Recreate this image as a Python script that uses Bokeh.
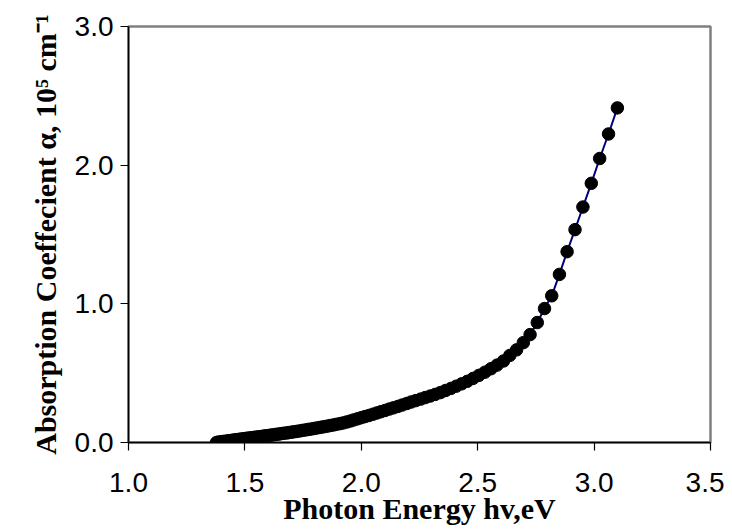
from bokeh.plotting import figure
from bokeh.models import FixedTicker, NumeralTickFormatter, Range1d
from bokeh.embed import file_html
from bokeh.resources import INLINE

# Photon energy (eV) and absorption coefficient (10^5 cm^-1)
energy = [3.100, 3.062, 3.024, 2.988, 2.952, 2.918, 2.884, 2.851, 2.818, 2.787,
          2.756, 2.725, 2.696, 2.667, 2.638, 2.611, 2.583, 2.557, 2.531, 2.505,
          2.480, 2.455, 2.431, 2.408, 2.385, 2.362, 2.340, 2.318, 2.296, 2.275,
          2.255, 2.234, 2.214, 2.195, 2.175, 2.157, 2.138, 2.120, 2.102, 2.084,
          2.067, 2.050, 2.033, 2.016, 2.000, 1.984, 1.968, 1.953, 1.938, 1.922,
          1.908, 1.893, 1.879, 1.865, 1.851, 1.837, 1.824, 1.810, 1.797, 1.784,
          1.771, 1.759, 1.746, 1.734, 1.722, 1.710, 1.699, 1.687, 1.676, 1.664,
          1.653, 1.642, 1.632, 1.621, 1.610, 1.600, 1.590, 1.580, 1.570, 1.560,
          1.550, 1.540, 1.531, 1.521, 1.512, 1.503, 1.494, 1.485, 1.476, 1.467,
          1.459, 1.450, 1.442, 1.434, 1.425, 1.417, 1.409, 1.401, 1.393, 1.385,
          1.378]
alpha = [2.413, 2.225, 2.048, 1.869, 1.698, 1.535, 1.376, 1.212, 1.058, 0.966,
         0.865, 0.778, 0.720, 0.668, 0.628, 0.588, 0.558, 0.532, 0.507, 0.484,
         0.462, 0.441, 0.423, 0.406, 0.390, 0.375, 0.360, 0.347, 0.335, 0.324,
         0.313, 0.302, 0.292, 0.281, 0.270, 0.260, 0.250, 0.241, 0.231, 0.222,
         0.213, 0.204, 0.195, 0.187, 0.179, 0.171, 0.163, 0.155, 0.148, 0.141,
         0.136, 0.131, 0.126, 0.122, 0.117, 0.113, 0.109, 0.105, 0.101, 0.097,
         0.094, 0.090, 0.087, 0.083, 0.080, 0.077, 0.074, 0.071, 0.068, 0.066,
         0.063, 0.060, 0.058, 0.055, 0.053, 0.050, 0.048, 0.046, 0.043, 0.041,
         0.039, 0.037, 0.035, 0.033, 0.031, 0.029, 0.027, 0.025, 0.023, 0.021,
         0.019, 0.017, 0.015, 0.013, 0.011, 0.009, 0.008, 0.006, 0.004, 0.002,
         0.000]

x_ticks = [1.0, 1.5, 2.0, 2.5, 3.0, 3.5]
y_ticks = [0.0, 1.0, 2.0, 3.0]

p = figure(width=724, height=532, output_backend="svg", toolbar_location=None,
           x_range=Range1d(1.0, 3.5), y_range=Range1d(0.0, 3.0),
           min_border_left=128, min_border_right=14, min_border_top=26,
           min_border_bottom=90)

p.background_fill_color = "white"
p.border_fill_color = "white"
p.outline_line_color = "#808080"
p.outline_line_width = 2.5
p.xgrid.visible = False
p.ygrid.visible = False

p.line(energy, alpha, line_color="#000080", line_width=2)
p.scatter(energy, alpha, size=12.5, fill_color="black", line_color="black")

for ax in (p.xaxis, p.yaxis):
    ax.axis_line_color = "black"
    ax.axis_line_width = 1.5
    ax.major_tick_line_color = "black"
    ax.major_tick_line_width = 1.2
    ax.major_tick_out = 8
    ax.major_tick_in = 0
    ax.minor_tick_line_color = None
    ax.major_label_text_font = "Liberation Sans"
    ax.major_label_text_font_size = "28px"
    ax.major_label_text_color = "black"
    ax.axis_label_text_font = "Liberation Serif"
    ax.axis_label_text_font_style = "bold"
    ax.axis_label_text_font_size = "30px"
    ax.axis_label_text_color = "black"
    ax.formatter = NumeralTickFormatter(format="0.0")

p.xaxis.ticker = FixedTicker(ticks=x_ticks)
p.yaxis.ticker = FixedTicker(ticks=y_ticks)
p.xaxis.major_label_standoff = 22
p.yaxis.major_label_standoff = 7
p.xaxis.axis_label = "Photon Energy hv,eV"
p.yaxis.axis_label = "Absorption Coeffecient α, 10⁵ cm⁻¹"
p.xaxis.axis_label_standoff = -3
p.yaxis.axis_label_standoff = 10

open("out.html", "w").write(file_html(p, INLINE))
